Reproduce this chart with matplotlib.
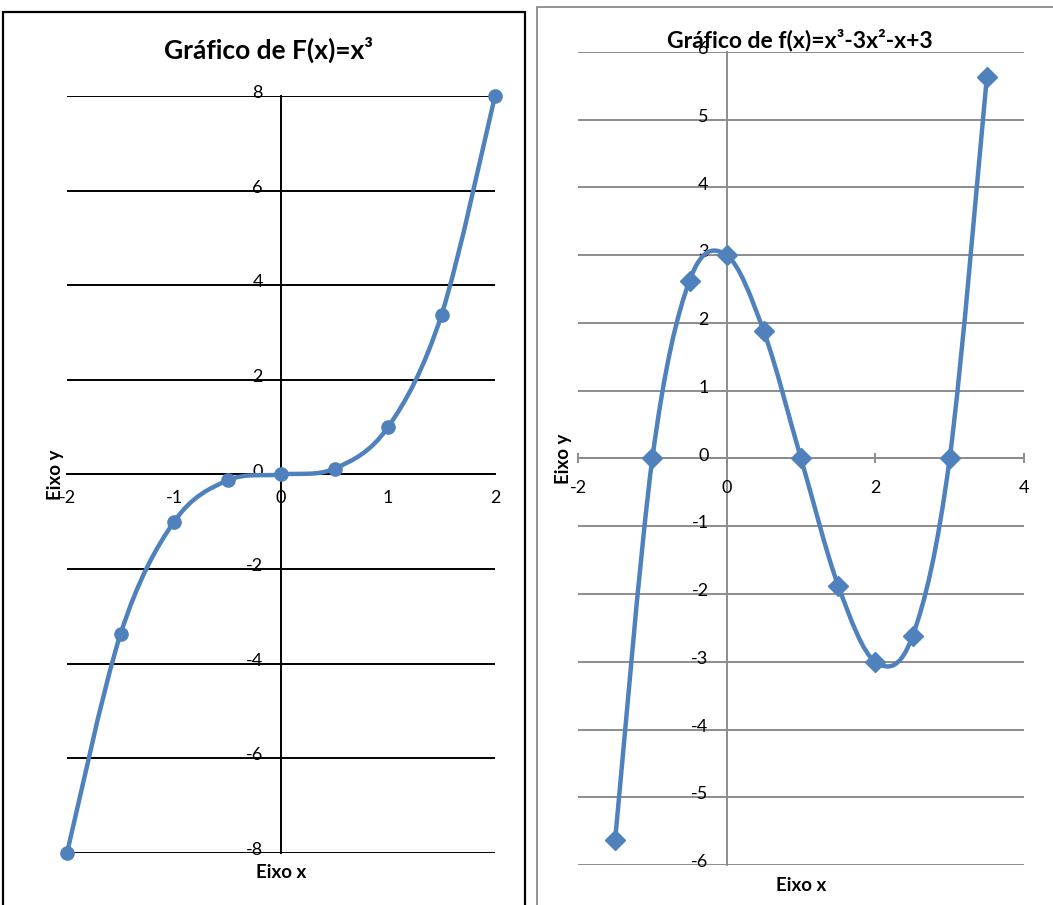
import matplotlib.pyplot as plt
import matplotlib.transforms as mtransforms
from matplotlib.path import Path
from matplotlib.patches import PathPatch, Rectangle

plt.rcParams['font.family'] = ['Lato', 'DejaVu Sans']
plt.rcParams['axes.unicode_minus'] = False

BLUE = "#4F81BD"

# F(x) = x^3
x1 = [-2, -1.5, -1, -0.5, 0, 0.5, 1, 1.5, 2]
y1 = [-8, -3.375, -1, -0.125, 0, 0.125, 1, 3.375, 8]
xticks1 = [-2, -1, 0, 1, 2]
yticks1 = [-8, -6, -4, -2, 0, 2, 4, 6, 8]

# f(x) = x^3 - 3x^2 - x + 3
x2 = [-1.5, -1, -0.5, 0, 0.5, 1, 1.5, 2, 2.5, 3, 3.5]
y2 = [-5.625, 0, 2.625, 3, 1.875, 0, -1.875, -3, -2.625, 0, 5.625]
xticks2 = [-2, 0, 2, 4]
yticks2 = [-6, -5, -4, -3, -2, -1, 0, 1, 2, 3, 4, 5, 6]

W, H = 1053, 905


def smooth_path(xs, ys):
    # Catmull-Rom segments written as cubic Bezier curves (Excel-style smoothed line)
    pts = list(zip(xs, ys))
    verts = [pts[0]]
    codes = [Path.MOVETO]
    n = len(pts)
    for i in range(n - 1):
        p0 = pts[max(i - 1, 0)]
        p1 = pts[i]
        p2 = pts[i + 1]
        p3 = pts[min(i + 2, n - 1)]
        c1 = (p1[0] + (p2[0] - p0[0]) / 6, p1[1] + (p2[1] - p0[1]) / 6)
        c2 = (p2[0] - (p3[0] - p1[0]) / 6, p2[1] - (p3[1] - p1[1]) / 6)
        verts += [c1, c2, p2]
        codes += [Path.CURVE4] * 3
    return Path(verts, codes)


def make_axes(fig, px_left, px_right, px_top, px_bottom):
    return fig.add_axes([px_left / W, 1 - px_bottom / H,
                         (px_right - px_left) / W, (px_bottom - px_top) / H])


def style_axes(ax, xlim, ylim, xticks, yticks, gcolor, tick_len, xpad):
    ax.set_xlim(*xlim)
    ax.set_ylim(*ylim)
    for s in ["top", "right"]:
        ax.spines[s].set_visible(False)
    ax.spines["left"].set_position(("data", 0))
    ax.spines["bottom"].set_position(("data", 0))
    for s in ["left", "bottom"]:
        ax.spines[s].set_color(gcolor)
        ax.spines[s].set_linewidth(1.4)
        ax.spines[s].set_zorder(1)
    for y in yticks:
        ax.axhline(y, color=gcolor, lw=1.4, zorder=1)
    ax.set_xticks(xticks)
    ax.set_yticks(yticks)
    ax.set_xticklabels([str(v) for v in xticks])
    ax.set_yticklabels([str(v) for v in yticks])
    ax.tick_params(axis="x", length=tick_len, direction="inout", color=gcolor,
                   width=1.4, labelsize=13, pad=xpad)
    ax.tick_params(axis="y", length=0, labelsize=13, pad=13)
    # lift the y labels a little so the minus sign clears the gridline
    lift = mtransforms.ScaledTranslation(0, 3 / 100, fig.dpi_scale_trans)
    for tick in ax.yaxis.get_major_ticks():
        tick.label1.set_verticalalignment("center")
        tick.label1.set_transform(tick.label1.get_transform() + lift)
    ax.patch.set_alpha(0)


fig = plt.figure(figsize=(W / 100, H / 100), dpi=100)

# panel frames
fig.add_artist(Rectangle((3 / W, -0.05), (525 - 3) / W, 1.05 - 12 / H,
                         transform=fig.transFigure, fill=False,
                         edgecolor="black", lw=1.6))
fig.add_artist(Rectangle((537 / W, -0.05), 0.5, 1.05 - 7 / H,
                         transform=fig.transFigure, fill=False,
                         edgecolor="#808080", lw=1.2))

# left chart
ax1 = make_axes(fig, 67, 495, 96, 853)
style_axes(ax1, (-2, 2), (-8, 8), xticks1, yticks1, "black", 0, 11)
ax1.add_patch(PathPatch(smooth_path(x1, y1), fill=False, edgecolor=BLUE,
                        lw=3.2, zorder=3, capstyle="round", clip_on=False))
ax1.plot(x1, y1, "o", color=BLUE, ms=9.5, zorder=4, clip_on=False)
fig.text(268 / W, 1 - 50 / H, "Gráfico de F(x)=x³", ha="center", va="center",
         fontsize=19, fontweight="bold")
fig.text(55 / W, 1 - 475 / H, "Eixo y", rotation=90, ha="center", va="center",
         fontsize=13.5, fontweight="bold")
fig.text(281 / W, 1 - 872 / H, "Eixo x", ha="center", va="center",
         fontsize=13.5, fontweight="bold")

# right chart
ax2 = make_axes(fig, 578, 1024, 52, 865)
style_axes(ax2, (-2, 4), (-6, 6), xticks2, yticks2, "#8c8c8c", 7, 12)
ax2.add_patch(PathPatch(smooth_path(x2, y2), fill=False, edgecolor=BLUE,
                        lw=3.2, zorder=3, capstyle="round", clip_on=False))
ax2.plot(x2, y2, "D", color=BLUE, ms=10, zorder=4, clip_on=False)
fig.text(800 / W, 1 - 40 / H, "Gráfico de f(x)=x³-3x²-x+3", ha="center",
         va="center", fontsize=16.5, fontweight="bold")
fig.text(563 / W, 1 - 459 / H, "Eixo y", rotation=90, ha="center", va="center",
         fontsize=13.5, fontweight="bold")
fig.text(801 / W, 1 - 885 / H, "Eixo x", ha="center", va="center",
         fontsize=13.5, fontweight="bold")

plt.savefig("out.png", dpi=100)
